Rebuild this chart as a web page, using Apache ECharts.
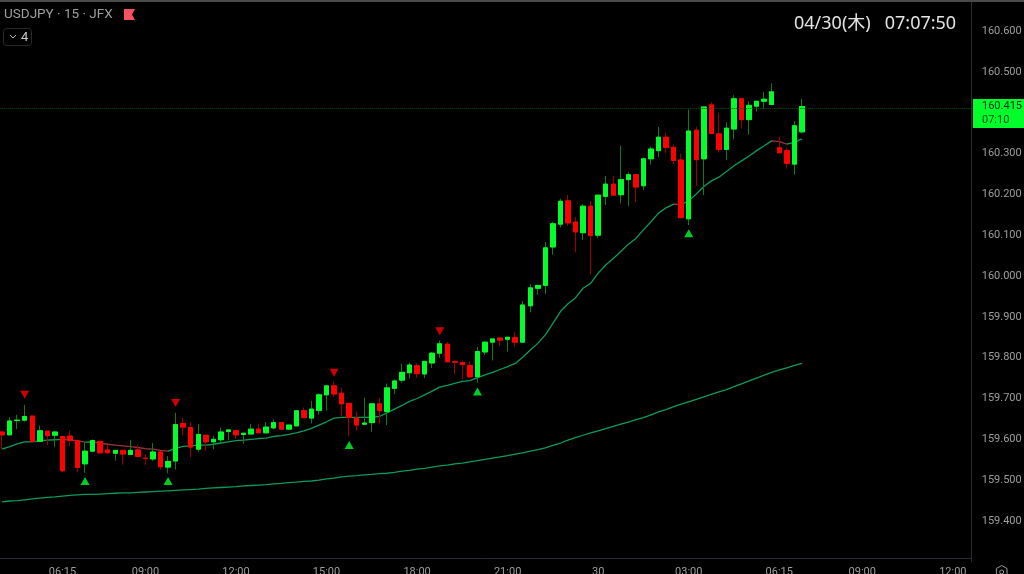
<!DOCTYPE html>
<html><head><meta charset="utf-8">
<style>html,body{margin:0;padding:0;background:#000;overflow:hidden}#c{width:1024px;height:574px}</style>
<script src="https://cdn.jsdelivr.net/npm/echarts@6/dist/echarts.min.js"></script>
</head><body><div id="c"></div>
<script>
const categories = ("04:00 04:15 04:30 04:45 05:00 05:15 05:30 05:45 06:15 06:30 06:45 07:00 07:15 07:30 07:45 08:00 08:15 08:30 08:45 " +
 "09:00 09:15 09:30 09:45 10:00 10:15 10:30 10:45 11:00 11:15 11:30 11:45 12:00 12:15 12:30 12:45 13:00 13:15 13:30 13:45 14:00 14:15 14:30 14:45 " +
 "15:00 15:15 15:30 15:45 16:00 16:15 16:30 16:45 17:00 17:15 17:30 17:45 18:00 18:15 18:30 18:45 19:00 19:15 19:30 19:45 20:00 20:15 20:30 20:45 " +
 "21:00 21:15 21:30 21:45 22:00 22:15 22:30 22:45 23:00 23:15 23:30 23:45 30 00:15 00:30 00:45 01:00 01:15 01:30 01:45 02:00 02:15 02:30 02:45 " +
 "03:00 03:15 03:30 03:45 04:00 04:15 04:30 04:45 05:00 05:15 05:30 05:45 06:15 06:30 06:45 07:00 07:15 07:30 07:45 08:00 08:15 08:30 08:45 09:00 09:15 09:30 09:45 10:00 10:15 10:30 10:45 11:00 11:15 11:30 11:45 12:00 12:15 12:30").split(" ");
const tickIndices = [8,19,31,43,55,67,79,91,103,114,126];
const opens = [159.618,159.611,159.646,159.647,159.657,159.595,159.620,159.610,159.607,159.608,159.597,159.540,159.571,159.595,159.574,159.566,159.573,159.563,159.574,159.554,159.552,159.569,159.532,159.547,159.639,159.629,159.576,159.610,159.594,159.599,159.619,159.621,159.612,159.613,159.625,159.616,159.628,159.641,159.625,159.633,159.670,159.652,159.671,159.709,159.731,159.713,159.688,159.652,159.637,159.641,159.687,159.668,159.725,159.745,159.763,159.780,159.760,159.787,159.811,159.833,159.790,159.788,159.781,159.753,159.814,159.838,159.848,159.845,159.849,159.838,159.927,159.970,159.977,160.071,160.127,160.184,160.132,160.106,160.171,160.100,160.195,160.225,160.199,160.236,160.248,160.221,160.287,160.307,160.340,160.315,160.284,160.140,160.357,160.287,160.419,160.348,160.310,160.360,160.434,160.383,160.416,160.428,160.420,160.314,160.307,160.274,160.353];
const closes = [159.611,159.645,159.647,159.656,159.595,159.621,159.609,159.618,159.523,159.597,159.531,159.571,159.597,159.567,159.567,159.573,159.564,159.573,159.558,159.553,159.569,159.533,159.546,159.636,159.630,159.581,159.612,159.594,159.600,159.618,159.623,159.611,159.615,159.625,159.616,159.630,159.641,159.625,159.635,159.670,159.653,159.674,159.709,159.731,159.711,159.687,159.654,159.635,159.640,159.687,159.670,159.726,159.743,159.764,159.782,159.761,159.791,159.811,159.834,159.790,159.789,159.783,159.753,159.815,159.838,159.846,159.843,159.850,159.838,159.929,159.971,159.977,160.069,160.128,160.183,160.130,160.108,160.171,160.099,160.198,160.225,160.198,160.236,160.248,160.218,160.287,160.311,160.340,160.315,160.283,160.143,160.355,160.285,160.414,160.349,160.310,160.362,160.434,160.383,160.418,160.428,160.433,160.451,160.302,160.276,160.368,160.415];
const lows = [159.576,159.611,159.625,159.643,159.595,159.595,159.586,159.582,159.520,159.584,159.519,159.518,159.571,159.567,159.567,159.548,159.538,159.563,159.558,159.537,159.547,159.526,159.517,159.526,159.610,159.556,159.570,159.572,159.576,159.588,159.598,159.601,159.589,159.613,159.616,159.616,159.625,159.625,159.623,159.633,159.653,159.639,159.660,159.670,159.704,159.656,159.607,159.621,159.635,159.619,159.638,159.635,159.711,159.739,159.749,159.750,159.750,159.775,159.800,159.790,159.760,159.748,159.753,159.739,159.807,159.793,159.829,159.815,159.827,159.838,159.911,159.954,159.956,160.052,160.119,160.123,160.058,160.088,160.004,160.093,160.174,160.198,160.178,160.171,160.181,160.211,160.273,160.291,160.301,160.274,160.143,160.125,160.221,160.198,160.349,160.302,160.284,160.335,160.362,160.346,160.403,160.410,160.420,160.299,160.263,160.248,160.349];
const highs = [159.618,159.654,159.660,159.684,159.657,159.634,159.620,159.618,159.607,159.621,159.597,159.592,159.600,159.595,159.586,159.573,159.573,159.598,159.587,159.564,159.591,159.569,159.559,159.665,159.652,159.642,159.637,159.610,159.609,159.629,159.623,159.621,159.615,159.637,159.638,159.642,159.649,159.641,159.635,159.672,159.678,159.694,159.713,159.733,159.741,159.726,159.688,159.668,159.702,159.687,159.701,159.737,159.747,159.785,159.788,159.786,159.791,159.814,159.842,159.838,159.794,159.793,159.790,159.826,159.838,159.846,159.848,159.850,159.862,159.939,159.980,159.977,160.083,160.133,160.189,160.198,160.144,160.176,160.184,160.198,160.245,160.245,160.319,160.254,160.248,160.291,160.317,160.365,160.350,160.321,160.299,160.407,160.366,160.414,160.426,160.399,160.376,160.443,160.434,160.428,160.428,160.451,160.472,160.341,160.315,160.380,160.434];
const fastEma = [159.576,159.582,159.589,159.594,159.594,159.597,159.598,159.599,159.600,159.598,159.597,159.593,159.594,159.590,159.588,159.586,159.584,159.582,159.580,159.577,159.576,159.573,159.571,159.578,159.583,159.584,159.586,159.586,159.588,159.591,159.594,159.597,159.598,159.600,159.602,159.603,159.607,159.609,159.612,159.616,159.621,159.627,159.635,159.643,159.652,159.654,159.654,159.654,159.654,159.654,159.656,159.665,159.674,159.683,159.693,159.700,159.709,159.718,159.728,159.732,159.737,159.742,159.744,159.751,159.758,159.764,159.771,159.778,159.786,159.801,159.819,159.835,159.856,159.884,159.913,159.932,159.947,159.970,159.982,160.007,160.027,160.043,160.060,160.078,160.092,160.113,160.133,160.154,160.167,160.176,160.175,160.184,160.201,160.219,160.233,160.242,160.256,160.270,160.282,160.294,160.307,160.319,160.331,160.329,160.323,160.327,160.336];
const slowEma = [159.447,159.449,159.450,159.452,159.454,159.456,159.458,159.459,159.461,159.463,159.464,159.465,159.465,159.466,159.467,159.468,159.469,159.469,159.470,159.471,159.472,159.473,159.474,159.475,159.476,159.477,159.478,159.480,159.481,159.482,159.483,159.484,159.486,159.487,159.488,159.489,159.491,159.492,159.494,159.495,159.497,159.498,159.500,159.503,159.505,159.508,159.510,159.511,159.513,159.514,159.516,159.517,159.519,159.522,159.524,159.527,159.529,159.532,159.535,159.537,159.540,159.542,159.545,159.548,159.551,159.554,159.557,159.560,159.564,159.567,159.571,159.575,159.579,159.585,159.591,159.598,159.604,159.610,159.616,159.621,159.626,159.632,159.637,159.642,159.648,159.653,159.660,159.667,159.673,159.680,159.686,159.692,159.698,159.704,159.710,159.716,159.722,159.729,159.736,159.743,159.750,159.757,159.764,159.770,159.775,159.781,159.786];
const sellIdx = [3,23,44,58];
const sellVal = [159.709,159.689,159.763,159.865];
const buyIdx = [11,22,46,63,91];
const buyVal = [159.498,159.498,159.586,159.717,160.105];
const priceTicks = {min:159.3,max:160.7,step:0.1};
const lastPrice = 160.415;
const countdown = "07:10";
const symbolText = "USDJPY · 15 · JFX";
const clockText = "04/30(木)   07:07:50";

const UP="#00ff2a", DOWN="#ff0000", UPW="#0b7d1a", DNW="#9c0000", AXIS="#2b2b33", TXT="#9e9e9e";
const FONT="Roboto, 'Noto Sans CJK JP', sans-serif";
const wicks = opens.map((o,i)=>[o,closes[i],lows[i],highs[i]]);
const bodies = opens.map((o,i)=>[o,closes[i],Math.min(o,closes[i]),Math.max(o,closes[i])]);
const pieces = [];
for(let i=0;i<fastEma.length-1;i++){
  pieces.push({gte:i,lt:i+1,color:fastEma[i+1]<fastEma[i]?"#96343e":"#0e9a5a"});
}
pieces.push({gte:fastEma.length-1,lte:categories.length,color:"#0e9a5a"});

const chart = echarts.init(document.getElementById('c'),null,{renderer:'canvas'});
chart.setOption({
  animation:false, backgroundColor:"#000",
  grid:{left:-1.7,width:973.4,top:-9.83,height:571.67,containLabel:false,outerBoundsMode:'none'},
  title:[
    {text:symbolText,left:4,top:8,padding:0,textStyle:{color:TXT,fontFamily:FONT,fontSize:13.5,fontWeight:'normal'}},
    {text:clockText,left:794,top:15,padding:0,textStyle:{color:"#e4e4e4",fontFamily:"'Noto Sans','Noto Sans CJK JP',sans-serif",fontSize:18,fontWeight:'normal'}}
  ],
  xAxis:{type:'category',data:categories,boundaryGap:true,offset:-3.83,
    axisLine:{show:true,onZero:false,lineStyle:{color:AXIS}},axisTick:{show:false},splitLine:{show:false},
    axisLabel:{color:TXT,fontFamily:FONT,fontSize:11,margin:9,hideOverlap:false,
      interval:(idx)=>tickIndices.includes(idx)}},
  yAxis:{type:'value',position:'right',min:priceTicks.min,max:priceTicks.max,interval:priceTicks.step,scale:true,
    axisLine:{show:true,lineStyle:{color:AXIS}},axisTick:{show:false},splitLine:{show:false},
    axisLabel:{color:TXT,fontFamily:FONT,fontSize:11,margin:10,showMinLabel:false,showMaxLabel:false,
      formatter:(v)=>v.toFixed(3)}},
  visualMap:{show:false,type:'piecewise',seriesIndex:1,dimension:0,pieces:pieces},
  series:[
    {name:'EMA slow',type:'line',data:slowEma,showSymbol:false,silent:true,lineStyle:{width:1.3,color:"#0e9a5a"},z:2},
    {name:'EMA fast',type:'line',data:fastEma,showSymbol:false,silent:true,lineStyle:{width:1.3},z:2},
    {name:'wicks',type:'candlestick',data:wicks,barWidth:5,z:3,
      itemStyle:{color:UPW,color0:DNW,borderColor:UPW,borderColor0:DNW,borderColorDoji:UPW,borderWidth:1},
      markLine:{silent:true,symbol:'none',animation:false,label:{show:false},
        lineStyle:{color:"#0a5a0c",type:'dotted',width:1},data:[{yAxis:lastPrice}]}},
    {name:'bodies',type:'candlestick',data:bodies,barWidth:5,z:4,
      itemStyle:{color:UP,color0:DOWN,borderColor:UP,borderColor0:DOWN,borderColorDoji:UP,borderWidth:1}},
    {name:'sell',type:'scatter',data:sellIdx.map((x,i)=>[x,sellVal[i]]),symbol:'triangle',symbolRotate:180,symbolSize:[9,8],itemStyle:{color:DOWN},z:5},
    {name:'buy',type:'scatter',data:buyIdx.map((x,i)=>[x,buyVal[i]]),symbol:'triangle',symbolSize:[9,8],itemStyle:{color:UP},z:5}
  ],
  graphic:[
    {type:'rect',shape:{x:0,y:0,width:1024,height:2},style:{fill:"#4a4a4a"},z:10},
    {type:'polygon',shape:{points:[[124,9],[135,9],[132,14.5],[135,20],[124,20]]},style:{fill:"#f7525f"},z:10},
    {type:'rect',shape:{x:3.5,y:28.5,width:28,height:17,r:3},style:{fill:"#000",stroke:"#2a2a2e",lineWidth:1},z:10},
    {type:'polyline',shape:{points:[[10,35],[13,38],[16,35]]},style:{fill:null,stroke:"#b0b0b0",lineWidth:1},z:11},
    {type:'text',x:21,y:31,style:{text:"4",fill:"#c8c8c8",font:"13px Roboto"},z:11},
    {type:'rect',shape:{x:973,y:99,width:51,height:29},style:{fill:UP},z:10},
    {type:'text',x:982,y:101,style:{text:lastPrice.toFixed(3),fill:"#0a2a10",font:"11px Roboto"},z:11},
    {type:'text',x:982,y:114.5,style:{text:countdown,fill:"#0a4a18",font:"11px Roboto"},z:11},
    {type:'polygon',shape:{points:[[1001.7,565.5],[1007,568.5],[1007,575],[1001.7,578],[996.4,575],[996.4,568.5]]},style:{fill:null,stroke:"#9a9a9a",lineWidth:1},z:10},
    {type:'circle',shape:{cx:1001.7,cy:572,r:2},style:{fill:null,stroke:"#9a9a9a",lineWidth:1},z:10}
  ]
});
</script></body></html>
